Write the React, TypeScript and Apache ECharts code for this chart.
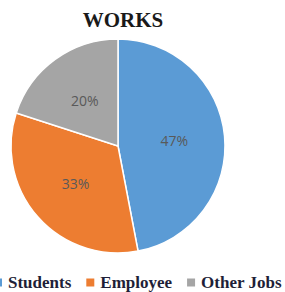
import React, { useEffect, useRef } from "react";
import * as echarts from "echarts";

const categories = ["Students", "Employee", "Other Jobs"];
const values = [47, 33, 20];
const colors = ["#5B9BD5", "#ED7D31", "#A5A5A5"];
const titleText = "WORKS";

export default function App() {
  const ref = useRef<HTMLDivElement>(null);
  useEffect(() => {
    document.body.style.margin = "0";
    const chart = echarts.init(ref.current!, null, { renderer: "svg" });
    chart.setOption({
      animation: false,
      backgroundColor: "#ffffff",
      title: {
        text: titleText,
        left: 123,
        textAlign: "center",
        top: 9,
        padding: 0,
        textStyle: {
          fontFamily: "Liberation Serif",
          fontWeight: "bold",
          fontSize: 21,
          color: "#1a1a1a",
        },
      },
      legend: {
        data: categories,
        left: -8,
        top: 274,
        padding: 0,
        icon: "rect",
        itemWidth: 10,
        itemHeight: 10,
        itemGap: 13,
        textStyle: {
          fontFamily: "Liberation Serif",
          fontWeight: "bold",
          fontSize: 17,
          color: "#1f1f38",
        },
      },
      series: [
        {
          type: "pie",
          center: [118, 146],
          radius: 107,
          startAngle: 90,
          clockwise: true,
          color: colors,
          itemStyle: { borderColor: "#ffffff", borderWidth: 1.5 },
          label: {
            show: true,
            position: "inside",
            formatter: "{c}%",
            fontFamily: "Open Sans",
            fontSize: 14,
            color: "#595959",
          },
          labelLine: { show: false },
          data: categories.map((name, i) => ({ name, value: values[i] })),
        },
      ],
    });
    return () => chart.dispose();
  }, []);
  return <div ref={ref} style={{ width: 285, height: 292 }} />;
}
